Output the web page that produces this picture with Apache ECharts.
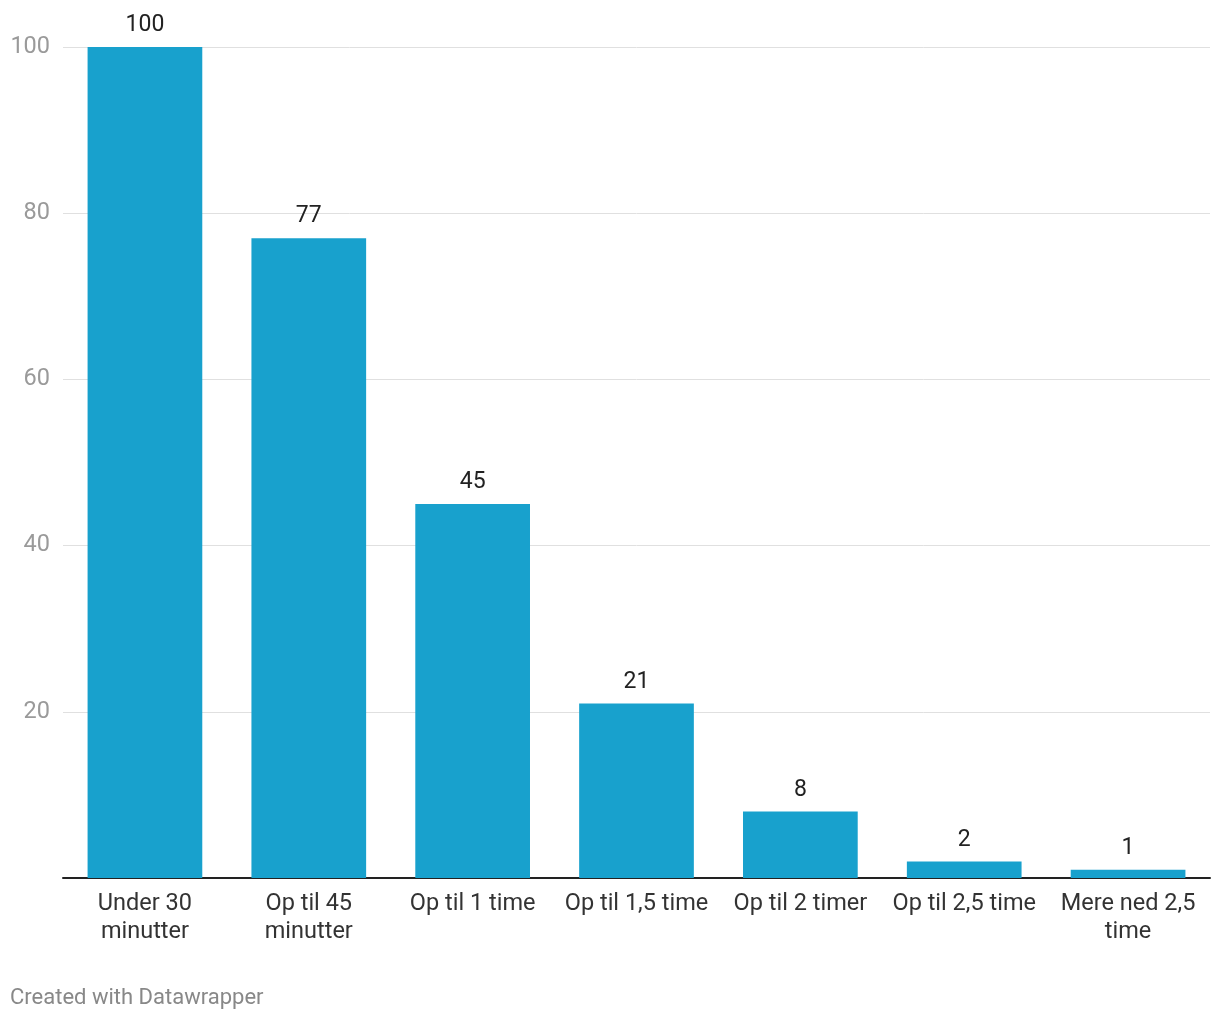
<!DOCTYPE html>
<html>
<head>
<meta charset="utf-8">
<script src="https://cdn.jsdelivr.net/npm/echarts@6/dist/echarts.min.js"></script>
<style>html,body{margin:0;padding:0;background:#fff}#c{width:1220px;height:1020px}</style>
</head>
<body>
<div id="c"></div>
<script>
const categories = ["Under 30\nminutter", "Op til 45\nminutter", "Op til 1 time", "Op til 1,5 time", "Op til 2 timer", "Op til 2,5 time", "Mere ned 2,5\ntime"];
const values = [100, 77, 45, 21, 8, 2, 1];
const yTicks = [20, 40, 60, 80, 100];

const chart = echarts.init(document.getElementById('c'));
chart.setOption({
  animation: false,
  textStyle: { fontFamily: 'Roboto' },
  grid: { left: 63, right: 10, top: 47, bottom: 142, containLabel: false },
  xAxis: {
    type: 'category',
    data: categories,
    axisLine: { show: true, lineStyle: { color: '#222', width: 2 } },
    axisTick: { show: false },
    axisLabel: { color: '#333', fontSize: 23.5, lineHeight: 28, margin: 12, fontFamily: 'Roboto', interval: 0 }
  },
  yAxis: {
    type: 'value',
    min: 0, max: 100, interval: 20,
    axisLine: { show: false },
    axisTick: { show: false },
    splitLine: { lineStyle: { color: '#e0e0e0', width: 1 } },
    axisLabel: {
      color: '#9a9a9a', fontSize: 23.5, margin: 13, fontFamily: 'Roboto', padding: [3, 0, 0, 0],
      formatter: v => yTicks.includes(v) ? String(v) : ''
    }
  },
  series: [{
    type: 'bar',
    data: values,
    barCategoryGap: '30%',
    itemStyle: { color: '#18a1cd' },
    label: { show: true, position: 'top', distance: 10, color: '#222', fontSize: 23, fontFamily: 'Roboto' }
  }],
  graphic: [{
    type: 'text', left: 10, top: 987,
    style: { text: 'Created with Datawrapper', fill: '#888', fontSize: 22, fontFamily: 'Roboto' }
  }]
});
</script>
</body>
</html>
